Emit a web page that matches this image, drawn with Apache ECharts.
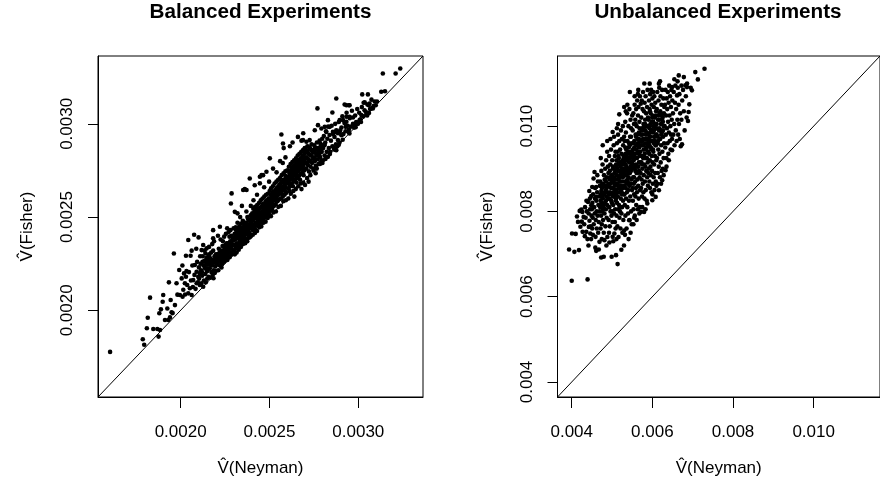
<!DOCTYPE html>
<html>
<head>
<meta charset="utf-8">
<script src="https://cdn.jsdelivr.net/npm/echarts@6/dist/echarts.min.js"></script>
<style>
html,body{margin:0;padding:0;background:#fff;}
#chart{width:880px;height:494px;}
</style>
</head>
<body>
<div id="chart"></div>
<script>
// Values are stored in millionths (1e-6) and converted with UNIT.
const UNIT = 1e-6;

// Balanced experiments: [V(Neyman), V(Fisher)]
const balancedMicro = [
[1603,1777],[1787,1845],[1795,1815],[1810,1904],[1815,1960],[1828,2068],[1846,1900],[1869,1900],[1876,1859],[1884,1894],[1880,1984],[1889,2005],[1899,2046],[1902,2082],[1912,1948],[1931,1948],[1934,2150],[1944,2055],[1949,1989],[1955,1985],[1962,2305],[1968,2028],[1977,2145],[1982,2084],[1992,2216],[1996,2082],[1940,1962],[1925,2010],
[2011,2073],[2006,2171],[2019,2198],[2030,2180],[2024,2145],[2037,2136],[2052,2118],[2043,2091],[2062,2082],[2090,2207],[2099,2180],[2071,2162],[2090,2145],[2030,2293],[2056,2293],[2043,2377],[2076,2405],[2080,2243],[2015,2110],[2025,2085],[2033,2210],[2047,2205],[2058,2160],[2066,2240],[2069,2125],[2078,2190],[2084,2115],[2093,2260],[2097,2150],[2062,2320],[2010,2240],[2088,2330],
[2101,2391],[2108,2198],[2108,2136],[2127,2126],[2127,2350],[2146,2332],[2118,2323],[2155,2287],[2174,2260],[2146,2252],[2137,2225],[2104,2170],[2112,2250],[2115,2215],[2121,2185],[2124,2290],[2131,2160],[2134,2265],[2139,2195],[2142,2150],[2149,2210],[2152,2245],[2158,2180],[2161,2300],[2164,2225],[2167,2175],[2170,2275],[2173,2205],[2177,2240],[2180,2190],[2183,2320],[2186,2215],[2189,2262],[2192,2200],[2195,2235],[2198,2280],[2117,2145],[2128,2240],[2150,2170],[2163,2258],[2185,2172],[2196,2210],[2140,2305],[2178,2355],[2120,2205],[2157,2222],[2168,2245],[2191,2290],[2110,2290],[2135,2320],[2160,2340],[2188,2370],[2145,2280],[2172,2310],
[2103,2230],[2113,2200],[2123,2260],[2133,2240],[2143,2225],[2153,2270],[2163,2285],[2171,2250],[2181,2270],[2193,2255],[2199,2300],
[2203,2245],[2206,2300],[2209,2265],[2212,2215],[2215,2330],[2218,2275],[2221,2240],[2224,2310],[2227,2260],[2230,2295],[2233,2250],[2236,2345],[2239,2280],[2242,2320],[2245,2262],[2248,2300],[2251,2350],[2254,2285],[2257,2330],[2260,2305],[2263,2270],[2266,2360],[2269,2320],[2272,2290],[2275,2395],[2278,2340],[2281,2310],[2284,2365],[2287,2330],[2290,2300],[2293,2390],[2296,2350],[2299,2320],[2205,2275],[2214,2260],[2223,2290],[2232,2320],[2241,2260],[2250,2280],[2259,2360],[2268,2290],[2277,2310],[2286,2400],[2295,2375],[2183,2430],[2183,2386],[2221,2448],[2287,2627],[2283,2573],[2210,2400],[2262,2440],[2245,2395],[2230,2230],[2276,2285],[2225,2380],[2255,2410],[2280,2430],[2298,2440],[2238,2370],[2270,2420],
[2202,2290],[2207,2262],[2213,2300],[2219,2310],[2226,2290],[2231,2275],[2237,2315],[2243,2300],[2249,2330],[2256,2320],[2261,2345],[2267,2330],[2274,2355],[2279,2370],[2285,2350],[2291,2375],[2297,2385],
[2302,2350],[2304,2410],[2306,2380],[2308,2330],[2310,2445],[2312,2395],[2314,2360],[2316,2420],[2318,2340],[2320,2470],[2322,2385],[2324,2430],[2326,2355],[2328,2400],[2330,2450],[2332,2370],[2334,2420],[2336,2345],[2338,2395],[2340,2465],[2342,2380],[2344,2430],[2346,2360],[2348,2410],[2350,2480],[2352,2390],[2354,2440],[2356,2370],[2358,2420],[2360,2455],[2362,2385],[2364,2430],[2366,2375],[2368,2470],[2370,2410],[2372,2445],[2374,2385],[2376,2500],[2378,2425],[2380,2460],[2382,2400],[2384,2440],[2386,2480],[2388,2415],[2390,2455],[2392,2395],[2394,2510],[2396,2440],[2398,2470],[2305,2300],[2315,2310],[2327,2325],[2339,2340],[2351,2355],[2363,2360],[2375,2370],[2387,2390],[2397,2400],[2305,2528],[2352,2645],[2320,2520],[2345,2560],[2389,2707],[2370,2530],[2335,2500],[2395,2560],[2361,2650],[2371,2645],
[2303,2380],[2309,2400],[2313,2430],[2319,2395],[2325,2410],[2331,2425],[2337,2440],[2343,2410],[2349,2445],[2355,2420],[2361,2470],[2367,2440],[2373,2460],[2379,2490],[2385,2450],[2391,2480],[2399,2500],[2311,2350],[2333,2390],[2357,2400],[2381,2430],
[2401,2450],[2403,2520],[2405,2480],[2407,2430],[2409,2545],[2411,2490],[2413,2460],[2415,2525],[2417,2440],[2419,2555],[2421,2500],[2423,2470],[2425,2540],[2427,2455],[2429,2510],[2431,2565],[2433,2485],[2435,2530],[2437,2460],[2439,2500],[2441,2575],[2443,2490],[2445,2545],[2447,2470],[2449,2520],[2451,2590],[2453,2505],[2455,2555],[2457,2480],[2459,2530],[2461,2600],[2463,2515],[2465,2560],[2467,2490],[2469,2545],[2471,2610],[2473,2520],[2475,2575],[2477,2500],[2479,2555],[2481,2620],[2483,2530],[2485,2590],[2487,2510],[2489,2560],[2491,2625],[2493,2540],[2495,2600],[2497,2520],[2499,2570],[2406,2405],[2418,2415],[2430,2425],[2442,2445],[2454,2450],[2466,2470],[2478,2475],[2490,2495],[2417,2671],[2446,2681],[2455,2725],[2483,2743],[2430,2620],[2470,2660],[2410,2590],[2498,2690],[2446,2716],[2464,2725],
[2402,2490],[2408,2510],[2414,2500],[2420,2530],[2426,2495],[2432,2520],[2438,2545],[2444,2515],[2450,2550],[2456,2525],[2462,2570],[2468,2535],[2474,2555],[2480,2585],[2486,2545],[2492,2580],[2498,2600],[2412,2445],[2436,2480],[2460,2500],[2484,2520],
[2501,2640],[2503,2560],[2505,2600],[2507,2535],[2509,2655],[2511,2580],[2513,2620],[2515,2545],[2517,2600],[2519,2665],[2521,2590],[2523,2630],[2525,2560],[2527,2610],[2529,2680],[2531,2600],[2533,2645],[2535,2570],[2537,2625],[2539,2690],[2541,2610],[2543,2655],[2545,2585],[2547,2635],[2549,2700],[2551,2620],[2553,2665],[2555,2595],[2557,2645],[2559,2710],[2561,2630],[2563,2680],[2565,2600],[2567,2655],[2569,2725],[2571,2640],[2573,2690],[2575,2610],[2577,2665],[2579,2735],[2581,2650],[2583,2700],[2585,2620],[2587,2675],[2589,2745],[2591,2660],[2593,2710],[2595,2630],[2597,2685],[2599,2750],[2508,2505],[2522,2525],[2536,2530],[2550,2555],[2564,2560],[2578,2585],[2592,2590],[2520,2760],[2560,2800],[2540,2740],[2590,2820],[2575,2790],[2567,2943],[2576,2895],[2580,2870],[2502,2815],
[2502,2590],[2508,2620],[2514,2600],[2520,2635],[2526,2615],[2532,2640],[2538,2600],[2544,2660],[2550,2640],[2556,2675],[2562,2650],[2568,2690],[2574,2660],[2580,2700],[2586,2680],[2592,2720],[2598,2700],[2516,2570],[2540,2590],[2566,2625],[2590,2640],
[2601,2680],[2603,2750],[2605,2710],[2607,2655],[2609,2770],[2611,2700],[2613,2735],[2615,2665],[2617,2720],[2619,2785],[2621,2705],[2623,2750],[2625,2680],[2627,2730],[2629,2795],[2631,2715],[2633,2760],[2635,2690],[2637,2745],[2639,2805],[2641,2725],[2643,2775],[2645,2700],[2647,2755],[2649,2815],[2651,2735],[2653,2785],[2655,2710],[2657,2765],[2659,2830],[2661,2745],[2663,2795],[2665,2720],[2667,2775],[2669,2840],[2671,2755],[2673,2805],[2675,2730],[2677,2785],[2679,2850],[2681,2765],[2683,2815],[2685,2740],[2687,2795],[2689,2860],[2691,2775],[2693,2825],[2695,2750],[2697,2805],[2699,2870],[2606,2600],[2620,2625],[2634,2640],[2648,2650],[2662,2665],[2676,2680],[2690,2685],[2630,2900],[2660,2930],[2690,2950],[2615,2880],[2680,2910],[2612,2640],[2632,2665],[2652,2685],[2672,2700],[2692,2725],[2640,2610],[2680,2650],
[2602,2715],[2608,2690],[2614,2745],[2620,2720],[2626,2765],[2632,2740],[2638,2775],[2644,2730],[2650,2790],[2656,2760],[2662,2805],[2668,2770],[2674,2815],[2680,2790],[2686,2830],[2692,2800],[2698,2840],[2610,2680],[2636,2700],[2664,2720],[2688,2760],
[2701,2790],[2704,2850],[2707,2760],[2710,2820],[2713,2880],[2716,2780],[2719,2840],[2722,2745],[2725,2800],[2728,2870],[2731,2770],[2734,2830],[2737,2890],[2740,2790],[2743,2850],[2746,2760],[2749,2815],[2752,2885],[2755,2800],[2758,2860],[2761,2775],[2764,2830],[2767,2900],[2770,2810],[2773,2870],[2776,2785],[2779,2840],[2782,2910],[2785,2820],[2788,2880],[2791,2800],[2794,2850],[2797,2920],[2712,2710],[2730,2725],[2748,2750],[2766,2760],[2784,2785],[2798,2790],[2689,2913],[2708,2904],[2726,2913],[2698,2868],[2717,2877],[2736,2859],[2755,2868],[2773,2841],[2792,2868],[2811,2886],[2720,2690],[2760,2735],[2700,2672],[2773,2993],[2755,2966],[2770,3083],
[2703,2815],[2709,2790],[2715,2855],[2721,2810],[2727,2835],[2733,2800],[2739,2860],[2745,2820],[2751,2845],[2757,2810],[2763,2870],[2769,2840],[2775,2855],[2781,2830],[2787,2895],[2793,2870],[2799,2885],
[2792,2975],[2811,2984],[2820,2957],[2857,2957],[2876,2966],[2895,2957],[2905,2939],[2885,2913],[2829,3020],[2839,2984],[2895,3020],[2914,3020],[2854,3061],[2876,3136],[2876,2859],[2829,2823],[2801,2805],[2783,2788],[2802,2870],[2806,2935],[2810,2830],[2814,2900],[2818,2960],[2822,2850],[2826,2920],[2830,2985],[2834,2870],[2838,2940],[2842,2850],[2846,2910],[2850,2990],[2854,2880],[2858,2945],[2862,2870],[2866,2930],[2870,3000],[2874,2890],[2878,2955],[2882,2880],[2886,2950],[2890,3010],[2894,2900],[2898,2965],[2815,2812],[2840,2838],[2865,2862],[2890,2888],
[2933,3011],[2929,2984],[2947,2970],[2933,3038],[2970,3034],[2923,3104],[2947,3100],[2933,3100],[2951,3100],[2951,3038],[2979,2993],[2905,2980],[2910,3040],[2916,2945],[2922,3005],[2928,2960],[2934,3060],[2940,2990],[2946,2955],[2952,3030],[2958,2985],[2964,3070],[2970,3000],[2976,2980],[2982,3045],[2988,3010],[2994,3080],[2998,3000],[2912,2915],[2950,2948],[2985,2982],
[3017,3047],[3045,3050],[3035,3073],[3073,3083],[3030,3113],[3051,3104],[3022,3158],[3054,3158],[3007,3020],[3082,3083],[3063,3109],[3005,3060],[3012,3025],[3020,3090],[3028,3040],[3036,3115],[3042,3065],[3050,3045],[3058,3100],[3066,3080],[3074,3130],[3085,3095],[3092,3120],[3098,3100],[3015,3010],[3060,3058],[3129,3172],[3138,3270],[3210,3270],[3236,3297],[3105,3120],[3150,3175]
];

// Unbalanced experiments: [V(Neyman), V(Fisher)]
const unbalancedMicro = [
[3934,7108],[4066,7052],[4000,6372],[4007,7483],[4098,7473],
[4180,7092],[4155,7754],[4197,8012],[4263,7988],[4295,7871],[4238,8045],[4215,7640],[4270,7520],[4130,7880],[4250,7760],
[4393,6405],[4361,7520],[4459,7483],[4425,7637],[4484,8145],[4484,8363],[4310,7700],[4330,8100],[4345,7850],[4375,8000],[4390,7350],[4405,8220],[4420,7950],[4440,7780],[4450,8300],[4470,7650],[4490,7900],[4415,7200],[4365,8250],[4435,8480],[4498,8050],[4325,7420],[4480,7350],[4455,8050],
[4541,8771],[4606,8574],[4508,8574],[4565,8925],[4606,8340],[4508,7600],[4590,7403],[4606,7075],[4671,7108],[4688,7286],[4510,8200],[4520,7850],[4530,8400],[4545,7700],[4555,8100],[4570,7950],[4580,8550],[4595,7800],[4610,8250],[4620,7600],[4630,8450],[4640,7900],[4650,8700],[4660,8150],[4670,7750],[4680,8350],[4690,8000],[4698,8600],[4525,7450],[4615,8000],[4575,8300],[4655,7500],[4635,8850],[4585,7150],
[4769,9551],[4794,6935],[4730,6920],[4811,7326],[4705,8100],[4710,8700],[4715,7600],[4722,8400],[4728,7900],[4735,8950],[4740,8200],[4746,7700],[4752,8550],[4758,8000],[4764,9100],[4770,8300],[4776,7800],[4782,8650],[4788,8100],[4795,7500],[4800,8850],[4806,8400],[4812,7950],[4818,8750],[4824,8200],[4830,9000],[4836,7650],[4842,8500],[4848,8050],[4854,9200],[4860,8350],[4866,7850],[4872,8800],[4878,8150],[4884,7400],[4890,8600],[4896,9050],[4745,7350],[4860,7200],[4720,9250],[4880,9400],
[4712,8250],[4733,8480],[4757,8320],[4779,8050],[4801,8600],[4823,8450],[4847,8700],[4869,8550],[4893,8300],[4741,8620],[4815,8180],[4880,9650],
[4820,8600],[4850,8250],[4880,8450],[4760,8150],[4790,8400],
[4990,6935],[5098,6974],[4934,7270],[5015,7403],[5057,7483],[5015,9862],[4905,8300],[4910,8900],[4915,7800],[4920,8600],[4926,9300],[4932,8100],[4938,8750],[4944,7650],[4950,8450],[4956,9100],[4962,8000],[4968,8650],[4974,9450],[4980,8250],[4986,7900],[4992,8850],[4998,8400],[5004,9200],[5010,7750],[5016,8550],[5022,9000],[5028,8150],[5034,8700],[5040,9550],[5046,8350],[5052,7950],[5058,8900],[5064,8500],[5070,9300],[5076,8050],[5082,8750],[5088,7600],[5094,8400],[5099,9100],[4925,7500],[4960,9700],[5030,7300],[5070,7750],[4945,8950],[5005,8000],[5050,9750],[5085,9400],
[4908,8650],[4929,8400],[4951,8800],[4973,8550],[4995,8200],[5013,8750],[5037,8450],[5061,8650],[5083,8950],[5097,8300],[4941,8300],[5019,9050],
[5002,8700],[5024,8350],[5046,8800],[5068,8600],[5091,8250],
[5138,6764],[5179,10277],[5104,8500],[5108,9200],[5112,7900],[5116,8850],[5120,9600],[5124,8200],[5128,9000],[5132,7650],[5136,8650],[5140,9400],[5144,8350],[5148,9800],[5152,8050],[5156,8950],[5160,7400],[5164,8550],[5168,9250],[5172,8150],[5176,8800],[5180,9650],[5184,7850],[5188,8450],[5192,9100],[5196,8000],[5200,9450],[5204,8700],[5208,7600],[5212,9050],[5216,8300],[5220,9900],[5224,8600],[5228,8950],[5232,7950],[5236,9350],[5240,8450],[5244,9700],[5248,8100],[5252,8850],[5256,7500],[5260,9200],[5264,8550],[5268,10000],[5272,8250],[5276,9550],[5280,7800],[5284,8900],[5288,9300],[5292,8400],[5296,7200],[5299,9750],[5150,10050],[5230,7100],[5110,7350],[5200,8100],
[5106,8750],[5127,9100],[5149,8600],[5171,8950],[5193,8700],[5217,9150],[5239,8850],[5261,8700],[5283,9100],[5297,8600],[5155,9300],[5245,8400],[5120,9950],[5300,7550],
[5113,9050],[5135,8450],[5157,8750],[5179,9150],[5201,8850],[5223,8500],[5246,9000],[5268,8800],[5290,9250],
[5442,10799],[5425,7794],[5303,9000],[5307,8400],[5311,9650],[5315,8150],[5319,9300],[5323,8700],[5327,10100],[5331,7900],[5335,9100],[5339,8550],[5343,9850],[5347,8300],[5351,9450],[5355,8850],[5359,7600],[5363,9200],[5367,8450],[5371,10300],[5375,8950],[5379,8100],[5383,9650],[5387,8700],[5391,9350],[5395,7950],[5399,9000],[5403,8500],[5407,10000],[5411,8800],[5415,9500],[5419,8250],[5423,9150],[5427,8600],[5431,10400],[5435,7800],[5439,9250],[5443,8900],[5447,9750],[5451,8350],[5455,9050],[5459,10150],[5463,8650],[5467,9400],[5471,8000],[5475,9950],[5479,8750],[5483,9300],[5487,7700],[5491,9600],[5495,8500],[5499,10250],[5320,7450],[5380,10500],[5460,7500],[5340,10350],[5410,7350],
[5306,9150],[5328,8850],[5352,9250],[5374,9000],[5396,9400],[5418,8900],[5440,9550],[5462,9150],[5484,9000],[5496,9400],[5360,8650],[5450,8650],[5330,9500],[5470,9750],[5300,10450],
[5312,8950],[5334,9350],[5356,9050],[5378,8750],[5401,9250],[5423,9600],[5445,9350],[5467,8950],[5489,9150],
[5504,9100],[5508,8550],[5512,9900],[5516,8250],[5520,9450],[5524,8800],[5528,10300],[5532,8050],[5536,9200],[5540,8650],[5544,10050],[5548,8400],[5552,9650],[5556,9000],[5560,10500],[5564,7900],[5568,9350],[5572,8700],[5576,10150],[5580,8350],[5584,9800],[5588,9100],[5592,8550],[5596,10400],[5600,8150],[5604,9550],[5608,8900],[5612,10000],[5616,8450],[5620,9250],[5624,10600],[5628,8750],[5632,9700],[5636,8050],[5640,9400],[5644,10250],[5648,8600],[5652,9050],[5656,10450],[5660,8300],[5664,9850],[5668,8950],[5672,9500],[5676,7950],[5680,10100],[5684,8800],[5688,9300],[5692,10700],[5696,8500],[5699,9650],[5530,7700],[5610,7800],[5690,8100],[5560,10700],[5640,10750],
[5506,9350],[5529,9050],[5551,9500],[5573,9250],[5595,9750],[5617,9050],[5639,9600],[5661,9350],[5683,9950],[5697,9150],[5545,8800],[5625,8900],[5585,10050],[5670,9700],[5550,7850],[5650,10850],
[5511,9250],[5533,9600],[5555,9300],[5578,8950],[5600,9450],[5622,9800],[5644,9550],[5666,9150],[5688,9650],
[5712,10527],[5712,7988],[5794,7988],[5875,8185],[5704,9400],[5708,8900],[5716,9800],[5720,8550],[5724,10200],[5728,9150],[5732,8750],[5736,10600],[5740,9550],[5744,8350],[5748,9950],[5752,9000],[5756,10400],[5760,8650],[5764,9700],[5768,10800],[5772,9250],[5776,8450],[5780,10050],[5784,9450],[5788,8850],[5792,10350],[5796,9100],[5800,9900],[5804,8300],[5808,10550],[5812,9350],[5816,8700],[5820,10150],[5824,9600],[5828,9050],[5832,10700],[5836,8500],[5840,9800],[5844,10300],[5848,8950],[5852,9500],[5856,10000],[5860,8250],[5864,9250],[5868,10450],[5872,8800],[5876,9700],[5880,10850],[5884,9150],[5888,8600],[5892,10200],[5896,9400],[5899,8900],[5750,8100],[5830,8050],
[5706,9650],[5729,9300],[5751,9800],[5773,9550],[5795,10000],[5817,9250],[5839,9700],[5861,9500],[5883,10000],[5897,9650],[5745,9100],[5825,9900],[5800,11000],
[5711,9550],[5733,9900],[5755,9650],[5777,9300],[5799,9700],[5821,10050],[5843,9450],[5866,9850],[5888,9550],
[5934,10996],[6081,8340],[5998,8263],[5904,9600],[5908,10150],[5912,9000],[5916,10600],[5920,9350],[5924,8700],[5928,9950],[5932,10400],[5936,9200],[5940,8550],[5944,10750],[5948,9750],[5952,9050],[5956,10300],[5960,8850],[5964,9500],[5968,10850],[5972,9900],[5976,8450],[5980,10500],[5984,9300],[5988,10100],[5992,8950],[5996,9650],[6000,10650],[6004,9150],[6008,10250],[6012,8650],[6016,9850],[6020,10800],[6024,9400],[6028,10000],[6032,8800],[6036,10450],[6040,9600],[6044,9100],[6048,10700],[6052,8500],[6056,9750],[6060,10200],[6064,9300],[6068,8900],[6072,10550],[6076,9550],[6080,10050],[6084,8700],[6088,9950],[6092,10350],[6096,9200],[6099,8600],
[5906,9800],[5929,9550],[5951,10050],[5973,9650],[5995,10200],[6017,9450],[6039,9900],[6061,9650],[6083,10250],[6097,9800],[5940,10350],[6000,8400],
[5910,9700],[5932,10000],[5954,9850],[5976,9450],[5998,9900],[6020,10100],[6042,9750],[6065,10050],[6087,9550],
[6162,10996],[6162,8497],[6243,8731],[6104,9800],[6110,10400],[6116,9250],[6122,10800],[6128,9600],[6134,8900],[6140,10150],[6146,9450],[6152,10600],[6158,9050],[6164,9900],[6170,10900],[6176,9350],[6182,10300],[6188,8800],[6194,9700],[6200,10700],[6206,9150],[6212,10050],[6218,9550],[6224,10500],[6230,8950],[6236,9850],[6242,10850],[6248,9400],[6254,10200],[6260,9000],[6266,9750],[6272,10650],[6278,9250],[6284,10000],[6290,9600],[6296,10450],[6126,8650],[6215,8650],[6280,8850],[6190,11050],
[6108,10050],[6131,9750],[6153,10250],[6175,9950],[6197,10350],[6219,9800],[6241,10150],[6263,9900],[6287,10300],
[6110,9950],[6140,9650],[6170,10150],[6200,9900],[6230,10250],[6260,10100],
[6327,8965],[6408,9199],[6489,9433],[6489,10916],[6305,10000],[6312,10500],[6319,9500],[6326,10850],[6333,9800],[6340,10250],[6347,9250],[6354,10650],[6361,9950],[6368,10400],[6375,9600],[6382,10800],[6389,10100],[6396,9350],[6403,10550],[6410,9850],[6417,10950],[6424,10250],[6431,9650],[6438,10700],[6445,10000],[6452,9450],[6459,10450],[6466,9800],[6473,10850],[6480,10150],[6487,9700],[6495,10600],[6350,9050],
[6654,11190],[6612,10721],[6703,9527],[6510,10300],[6520,9800],[6530,10800],[6540,10050],[6550,9550],[6560,10550],[6570,10950],[6580,9900],[6590,10400],[6600,9650],[6620,10150],[6630,10900],[6640,9800],[6650,10500],[6660,10050],[6670,10750],[6680,9700],[6690,10300],[6545,11100],[6625,11050],
[6735,9574],[6818,10955],[6916,10511],[6899,10330],[6883,10120],[7064,11267],[7293,11347],[7128,11096],[6720,10150],[6740,10600],[6760,10850],[6780,10350],[6800,9900],[6830,10700],[6850,10200],[6860,11000],[6780,11150],[6950,10900],[6720,10950],[6858,10916],[6981,10839]
];

const balancedRange = [0.001535, 0.003364];
const unbalancedRange = [0.003647, 0.011645];
const balancedTicks = [0.0020, 0.0025, 0.0030];
const unbalancedTicks = [0.004, 0.006, 0.008, 0.010];
const panelTitles = ['Balanced Experiments', 'Unbalanced Experiments'];
const xTitle = 'V\u0302(Neyman)';
const yTitle = 'V\u0302(Fisher)';

const FONT = '"Liberation Sans", Arial, Helvetica, sans-serif';
const toValues = arr => arr.map(p => [p[0] * UNIT, p[1] * UNIT]);

function makeAxis(dim, gridIndex, range, ticks, digits) {
  const isX = dim === 'x';
  return {
    type: 'value',
    gridIndex: gridIndex,
    min: range[0],
    max: range[1],
    axisLine: { show: true, onZero: false, lineStyle: { color: '#000', width: 1 } },
    axisTick: { show: true, length: isX ? 11 : 10, customValues: ticks, lineStyle: { color: '#000', width: 1 } },
    axisLabel: {
      customValues: ticks,
      formatter: v => v.toFixed(digits),
      color: '#000', fontSize: 17, fontFamily: FONT,
      margin: isX ? 27 : 22,
      rotate: isX ? 0 : 90
    },
    splitLine: { show: false },
    name: isX ? xTitle : yTitle,
    nameLocation: 'middle',
    nameGap: isX ? 63 : 62,
    nameTextStyle: { color: '#000', fontSize: 17, fontFamily: FONT }
  };
}

const DOT = 4.6;
const chart = echarts.init(document.getElementById('chart'), null, { renderer: 'canvas' });
chart.setOption({
  animation: false,
  backgroundColor: '#fff',
  grid: [
    { left: 98, top: 56, width: 325, height: 341, show: true, borderColor: '#000', borderWidth: 1, backgroundColor: 'transparent', containLabel: false },
    { left: 557.5, top: 56, width: 325.5, height: 341, show: true, borderColor: '#000', borderWidth: 1, backgroundColor: 'transparent', containLabel: false }
  ],
  xAxis: [
    makeAxis('x', 0, balancedRange, balancedTicks, 4),
    makeAxis('x', 1, unbalancedRange, unbalancedTicks, 3)
  ],
  yAxis: [
    makeAxis('y', 0, balancedRange, balancedTicks, 4),
    makeAxis('y', 1, unbalancedRange, unbalancedTicks, 3)
  ],
  graphic: [
    { type: 'text', x: 260.5, y: 12, style: { text: panelTitles[0], fontSize: 20.7, fontWeight: 'bold', fontFamily: FONT, fill: '#000', align: 'center', verticalAlign: 'middle' } },
    { type: 'text', x: 718, y: 12, style: { text: panelTitles[1], fontSize: 20.7, fontWeight: 'bold', fontFamily: FONT, fill: '#000', align: 'center', verticalAlign: 'middle' } }
  ],
  series: [
    { type: 'line', xAxisIndex: 0, yAxisIndex: 0, data: [[balancedRange[0], balancedRange[0]], [balancedRange[1], balancedRange[1]]], showSymbol: false, symbol: 'none', lineStyle: { color: '#000', width: 1 }, silent: true, z: 1 },
    { type: 'scatter', xAxisIndex: 0, yAxisIndex: 0, data: toValues(balancedMicro), symbol: 'circle', symbolSize: DOT, itemStyle: { color: '#000', opacity: 1 }, silent: true, z: 2 },
    { type: 'line', xAxisIndex: 1, yAxisIndex: 1, data: [[unbalancedRange[0], unbalancedRange[0]], [unbalancedRange[1], unbalancedRange[1]]], showSymbol: false, symbol: 'none', lineStyle: { color: '#000', width: 1 }, silent: true, z: 1 },
    { type: 'scatter', xAxisIndex: 1, yAxisIndex: 1, data: toValues(unbalancedMicro), symbol: 'circle', symbolSize: DOT, itemStyle: { color: '#000', opacity: 1 }, silent: true, z: 2 }
  ]
});
</script>
</body>
</html>
